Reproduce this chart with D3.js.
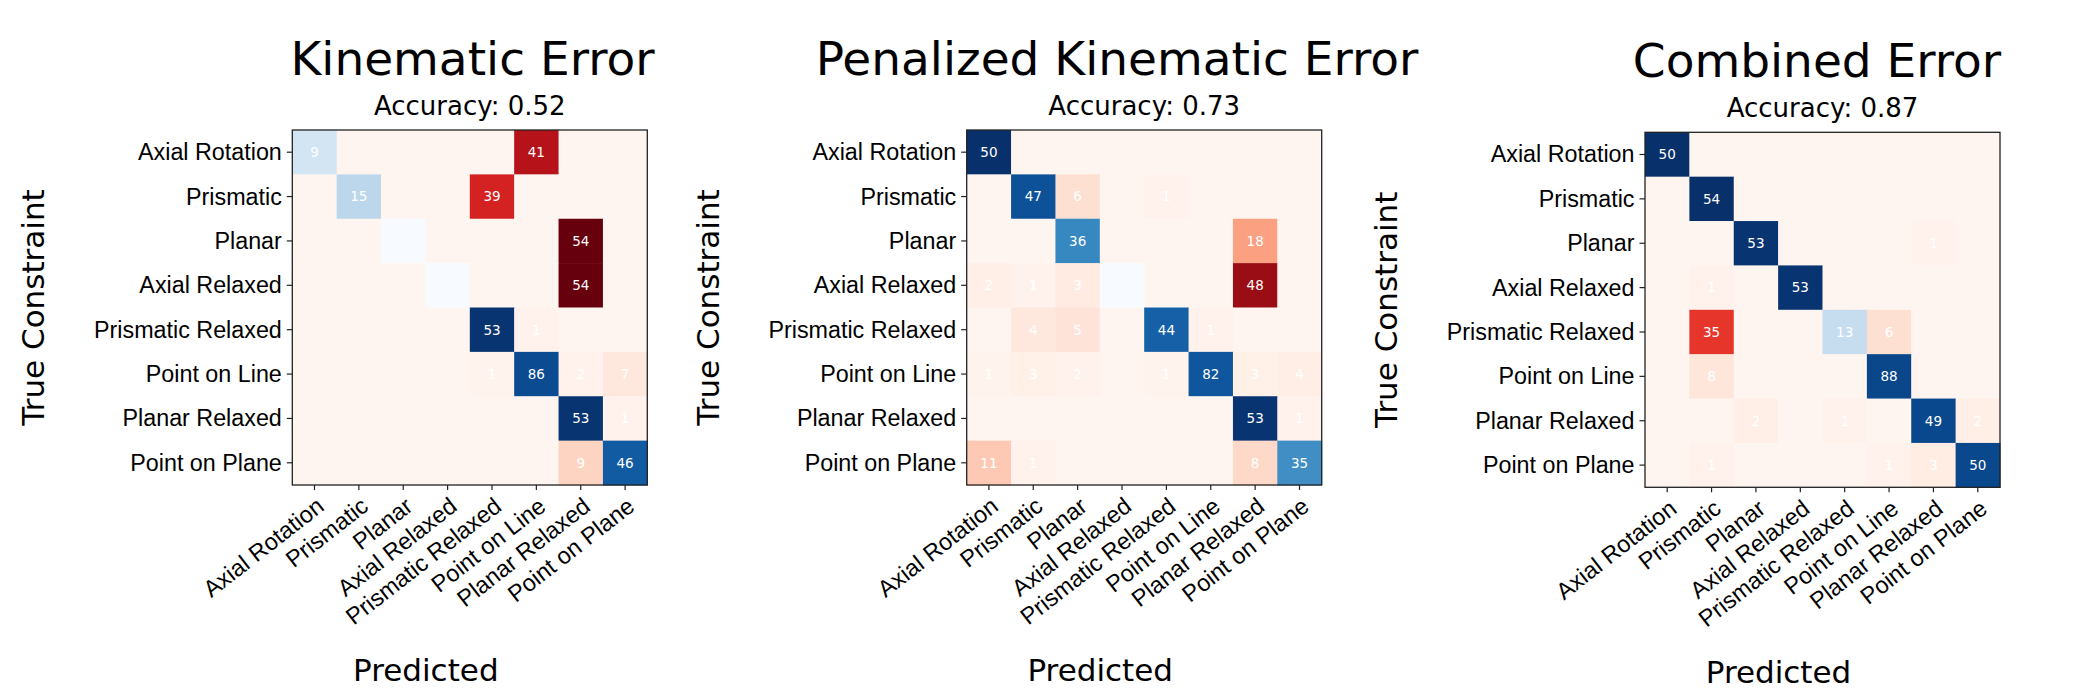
<!DOCTYPE html>
<html>
<head>
<meta charset="utf-8">
<script src="https://cdn.jsdelivr.net/npm/d3@7"></script>
<style>
  body { margin: 0; background: #fff; }
  svg { display: block; font-family: "DejaVu Sans", sans-serif; }
</style>
</head>
<body>
<div id="chart"></div>
<script>
// constraint classes, same order on both axes
const categories = ["Axial Rotation", "Prismatic", "Planar", "Axial Relaxed",
  "Prismatic Relaxed", "Point on Line", "Planar Relaxed", "Point on Plane"];

const titles = ["Kinematic Error", "Penalized Kinematic Error", "Combined Error"];
const accuracies = [0.52, 0.73, 0.87];

// rows = true constraint, columns = predicted
const kinematicCounts = [
  [9, 0, 0, 0, 0, 41, 0, 0],
  [0, 15, 0, 0, 39, 0, 0, 0],
  [0, 0, 0, 0, 0, 0, 54, 0],
  [0, 0, 0, 0, 0, 0, 54, 0],
  [0, 0, 0, 0, 53, 1, 0, 0],
  [0, 0, 0, 0, 1, 86, 2, 7],
  [0, 0, 0, 0, 0, 0, 53, 1],
  [0, 0, 0, 0, 0, 0, 9, 46]
];
const penalizedCounts = [
  [50, 0, 0, 0, 0, 0, 0, 0],
  [0, 47, 6, 0, 1, 0, 0, 0],
  [0, 0, 36, 0, 0, 0, 18, 0],
  [2, 1, 3, 0, 0, 0, 48, 0],
  [0, 4, 5, 0, 44, 1, 0, 0],
  [1, 3, 2, 0, 1, 82, 3, 4],
  [0, 0, 0, 0, 0, 0, 53, 1],
  [11, 1, 0, 0, 0, 0, 8, 35]
];
const combinedCounts = [
  [50, 0, 0, 0, 0, 0, 0, 0],
  [0, 54, 0, 0, 0, 0, 0, 0],
  [0, 0, 53, 0, 0, 0, 1, 0],
  [0, 1, 0, 53, 0, 0, 0, 0],
  [0, 35, 0, 0, 13, 6, 0, 0],
  [0, 8, 0, 0, 0, 88, 0, 0],
  [0, 0, 2, 0, 1, 0, 49, 2],
  [0, 1, 0, 0, 0, 1, 3, 50]
];
const matrices = [kinematicCounts, penalizedCounts, combinedCounts];

const W = 2100, H = 700;
const size = 355;
const panelLeft = [292.3, 966.7, 1645];
const panelTop = [130, 130, 132.3];
const titleCenter = [472.5, 1117, 1817];

// x tick labels: rotated, anchored at their top-right corner
const xFont = 23.5, xAngle = 38;
const asc = 0.76 * xFont, rad = xAngle * Math.PI / 180;
const xLabelShift = `translate(${asc * Math.sin(rad)},${10 + asc * Math.cos(rad)}) rotate(${-xAngle})`;

const svg = d3.select("#chart").append("svg")
    .attr("width", W)
    .attr("height", H);

const x = d3.scaleBand().domain(categories).range([0, size]);
const y = d3.scaleBand().domain(categories).range([0, size]);

const blues = d3.scaleSequential(d3.interpolateBlues).domain([0, 1]);
const reds = d3.scaleSequential(d3.interpolateReds).domain([0, 1]);

matrices.forEach((m, k) => {
  const dy0 = panelTop[k] - 130;
  const g = svg.append("g")
      .attr("transform", `translate(${panelLeft[k]},${panelTop[k]})`);

  // flatten with row-normalised share for colouring
  const cells = [];
  m.forEach((row, i) => {
    const total = d3.sum(row);
    row.forEach((v, j) => cells.push({ i, j, v, p: total ? v / total : 0 }));
  });

  g.selectAll("rect.cell")
    .data(cells)
    .join("rect")
      .attr("class", "cell")
      .attr("x", d => x(categories[d.j]))
      .attr("y", d => y(categories[d.i]))
      .attr("width", x.bandwidth() + 0.5)
      .attr("height", y.bandwidth() + 0.5)
      .attr("fill", d => d.i === d.j ? blues(d.p) : reds(d.p));

  g.selectAll("text.val")
    .data(cells.filter(d => d.v > 0))
    .join("text")
      .attr("class", "val")
      .attr("x", d => x(categories[d.j]) + x.bandwidth() / 2)
      .attr("y", d => y(categories[d.i]) + y.bandwidth() / 2)
      .attr("dy", "0.36em")
      .attr("text-anchor", "middle")
      .style("font-size", "13.5px")
      .style("fill", "white")
      .text(d => d.v);

  // frame
  g.append("rect")
      .attr("width", size)
      .attr("height", size)
      .attr("fill", "none")
      .attr("stroke", "#222")
      .attr("stroke-width", 1.3);

  const yAxis = g.append("g")
      .call(d3.axisLeft(y).tickSize(5.5).tickPadding(5).tickSizeOuter(0));
  yAxis.select(".domain").remove();
  yAxis.selectAll("line").attr("stroke", "#222").attr("stroke-width", 1.2);
  yAxis.selectAll("text")
      .style("font-size", "23.3px")
      .style("fill", "black")
      .attr("dy", "0.34em");

  const xAxis = g.append("g")
      .attr("transform", `translate(0,${size})`)
      .call(d3.axisBottom(x).tickSize(5).tickPadding(5).tickSizeOuter(0));
  xAxis.select(".domain").remove();
  xAxis.selectAll("line").attr("stroke", "#222").attr("stroke-width", 1.2);
  xAxis.selectAll("text")
      .attr("x", 0)
      .attr("y", 0)
      .attr("dy", 0)
      .attr("text-anchor", "end")
      .attr("transform", xLabelShift)
      .style("font-size", `${xFont}px`)
      .style("fill", "black");

  // titles
  svg.append("text")
      .attr("x", titleCenter[k])
      .attr("y", 75 + dy0)
      .attr("text-anchor", "middle")
      .style("font-size", "47px")
      .text(titles[k]);

  g.append("text")
      .attr("x", size / 2)
      .attr("y", 114.5 - 130)
      .attr("text-anchor", "middle")
      .style("font-size", "26px")
      .text(`Accuracy: ${accuracies[k].toFixed(2)}`);

  // axis labels
  g.append("text")
      .attr("transform", `translate(-248,${size / 2}) rotate(-90)`)
      .attr("text-anchor", "middle")
      .style("font-size", "31px")
      .text("True Constraint");

  g.append("text")
      .attr("x", size / 2 - 44)
      .attr("y", 681 - 130)
      .attr("text-anchor", "middle")
      .style("font-size", "31px")
      .text("Predicted");
});
</script>
</body>
</html>
